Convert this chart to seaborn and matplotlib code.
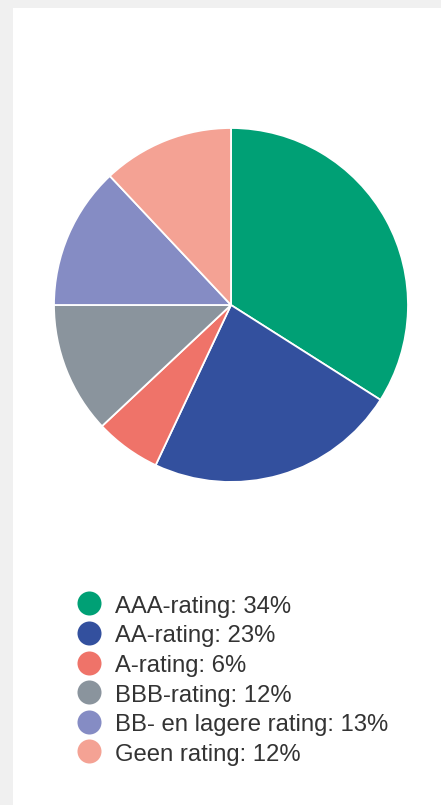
import matplotlib
matplotlib.use("Agg")
import matplotlib.pyplot as plt
from matplotlib.lines import Line2D
from matplotlib.patches import Rectangle
import seaborn as sns

categories = ["AAA-rating", "AA-rating", "A-rating", "BBB-rating",
              "BB- en lagere rating", "Geen rating"]
values = [34, 23, 6, 12, 13, 12]
colors = ["#00a075", "#33509e", "#ef7369", "#8a949d", "#858cc4", "#f4a294"]

sns.set_theme(style="white")
plt.rcParams["font.family"] = ["Liberation Sans", "DejaVu Sans"]

W, H = 441, 805
fig = plt.figure(figsize=(W / 100, H / 100), dpi=100)
fig.patch.set_facecolor("#f0f0f0")
fig.add_artist(Rectangle((13 / W, 0), 1 - 13 / W, 1 - 8 / H,
                         transform=fig.transFigure, facecolor="white",
                         edgecolor="none", zorder=0))

cx, cy, r = 231, 305, 177
ax = fig.add_axes([(cx - r) / W, 1 - (cy + r) / H, 2 * r / W, 2 * r / H])
ax.pie(values, colors=colors, startangle=90, counterclock=False, radius=1,
       wedgeprops=dict(edgecolor="white", linewidth=1.3))
ax.set_xlim(-1, 1)
ax.set_ylim(-1, 1)
ax.set_aspect("equal")
ax.axis("off")

handles = [Line2D([], [], marker="o", linestyle="", markersize=17.3,
                  markerfacecolor=c, markeredgewidth=0) for c in colors]
labels = [f"{c}: {v}%" for c, v in zip(categories, values)]
fig.legend(handles, labels, loc="upper left",
           bbox_to_anchor=(77 / W, 1 - 594 / H), frameon=False,
           borderpad=0, borderaxespad=0, handlelength=1.0, handleheight=1.0,
           handletextpad=0.6, labelspacing=0.24, fontsize=17.2,
           labelcolor="#333333")

fig.savefig("out.png", dpi=100, facecolor=fig.get_facecolor())
